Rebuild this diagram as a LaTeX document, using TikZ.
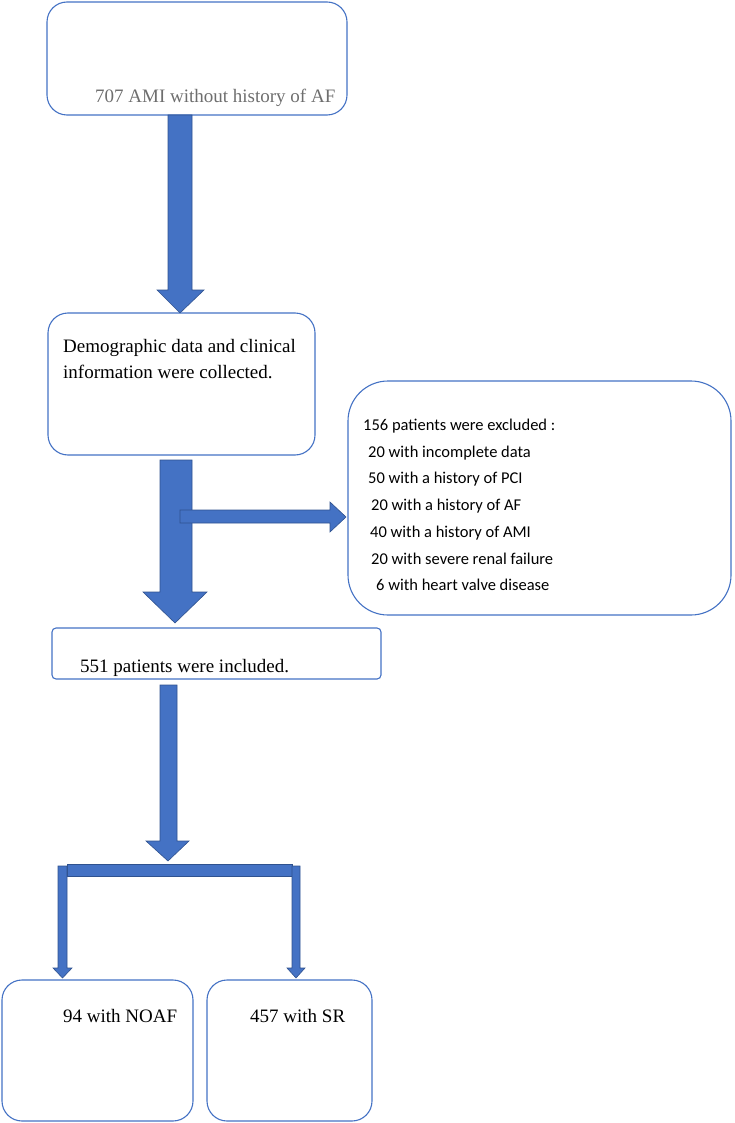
\documentclass[tikz,border=0pt]{standalone}
\usepackage{fontspec}
\setmainfont{Liberation Serif}
\newfontfamily\calib{Carlito}
\definecolor{boxline}{RGB}{68,114,196}
\definecolor{arrfill}{RGB}{68,114,196}
\definecolor{arrline}{RGB}{47,82,143}
\definecolor{greytxt}{RGB}{110,110,110}
\tikzset{
  box/.style={draw=boxline, line width=1.1pt, rounded corners=#1},
  box/.default=20pt,
  blk/.style={fill=arrfill, draw=arrline, line width=0.6pt},
  txt/.style={anchor=base west, inner sep=0pt, font=\fontsize{19}{26}\selectfont},
  ex/.style={anchor=base west, inner sep=0pt, font=\calib\fontsize{16.5}{20}\selectfont}
}
\begin{document}
\begin{tikzpicture}[x=1pt, y=-1pt]
  \useasboundingbox (0,0) rectangle (734,1123);
  % boxes
  \draw[box] (47,2) rectangle (347,115);
  \draw[box] (48,313) rectangle (315,455);
  \draw[box=40pt] (348,381) rectangle (731,615);
  \draw[box=4pt] (52,628) rectangle (381,679);
  \draw[box] (2,980) rectangle (193,1121);
  \draw[box] (207,980) rectangle (372,1121);
  % texts
  \node[txt, text=greytxt] (start) at (95,103) {707 AMI without history of AF};
  \node[txt] (demo1) at (63,352) {Demographic data and clinical};
  \node[txt] (demo2) at (63,378) {information were collected.};
  \node[ex] (exc0) at (363,430) {156 patients were excluded :};
  \node[ex] (exc1) at (368,457) {20 with incomplete data};
  \node[ex] (exc2) at (368,483) {50 with a history of PCI};
  \node[ex] (exc3) at (371,510) {20 with a history of AF};
  \node[ex] (exc4) at (370,537) {40 with a history of AMI};
  \node[ex] (exc5) at (371,564) {20 with severe renal failure};
  \node[ex] (exc6) at (376,590) {6 with heart valve disease};
  \node[txt] (incl) at (80,672) {551 patients were included.};
  \node[txt] (noaf) at (63,1022) {94 with NOAF};
  \node[txt] (sr) at (250,1022) {457 with SR};
  % block arrows
  \draw[blk] (168,115) -- (192,115) -- (192,290) -- (204,290) -- (180,313)
    -- (157,290) -- (168,290) -- cycle;
  \draw[blk] (160,460) -- (192,460) -- (192,592) -- (207,592) -- (175,623)
    -- (143,592) -- (160,592) -- cycle;
  \draw[blk] (180,510) -- (330,510) -- (330,502) -- (346,517) -- (330,532)
    -- (330,523) -- (180,523) -- cycle;
  \draw[blk] (160,685) -- (177,685) -- (177,841) -- (189,841) -- (168,861)
    -- (146,841) -- (160,841) -- cycle;
  \draw[blk] (67,864) rectangle (292,876);
  \draw[blk] (58,866) -- (67,866) -- (67,968) -- (72,968) -- (62.5,978)
    -- (53,968) -- (58,968) -- cycle;
  \draw[blk] (292,866) -- (300,866) -- (300,968) -- (305,968) -- (296,978)
    -- (287,968) -- (292,968) -- cycle;
\end{tikzpicture}
\end{document}
